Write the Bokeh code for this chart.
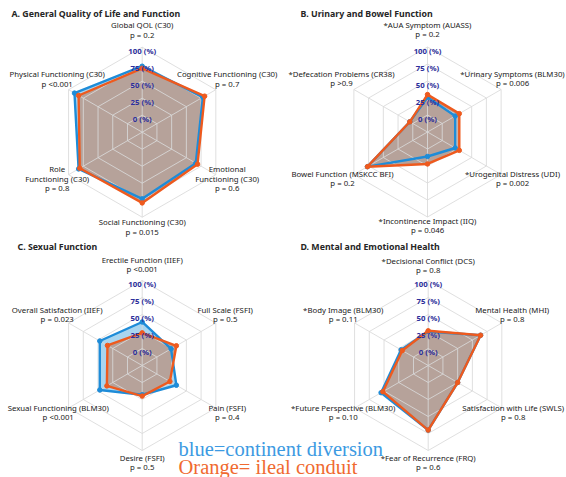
import numpy as np
from bokeh.plotting import figure
from bokeh.models import Range1d
from bokeh.core.properties import value
from bokeh.embed import file_html
from bokeh.resources import INLINE

# ---------------- data ----------------
ring_values = [0, 25, 50, 75, 100]
ring_labels = ["0 (%)", "25 (%)", "50 (%)", "75 (%)", "100 (%)"]

A_title = "A. General Quality of Life and Function"
A_axes = ["Global QOL (C30)", "Cognitive Functioning (C30)", "Emotional\nFunctioning (C30)",
          "Social Functioning (C30)", "Role\nFunctioning (C30)", "Physical Functioning (C30)"]
A_p = ["p = 0.2", "p = 0.7", "p = 0.6", "p = 0.015", "p = 0.8", "p <0.001"]
A_blue = [72, 78, 66, 73, 83, 90]
A_orange = [69, 81, 69, 79, 81, 83]

B_title = "B. Urinary and Bowel Function"
B_axes = ["*AUA Symptom (AUASS)", "*Urinary Symptoms (BLM30)", "*Urogenital Distress (UDI)",
          "*Incontinence Impact (IIQ)", "Bowel Function (MSKCC BFI)", "*Defecation Problems (CR38)"]
B_p = ["p = 0.2", "p = 0.006", "p = 0.002", "p = 0.046", "p = 0.2", "p >0.9"]
B_blue = [26, 22, 22, 11, 77, 5]
B_orange = [30, 29, 29, 22, 77, 5]

C_title = "C. Sexual Function"
C_axes = ["Erectile Function (IIEF)", "Full Scale (FSFI)", "Pain (FSFI)", "Desire (FSFI)",
          "Sexual Functioning (BLM30)", "Overall Satisfaction (IIEF)"]
C_p = ["p <0.001", "p = 0.5", "p = 0.4", "p = 0.5", "p <0.001", "p = 0.023"]
C_blue = [39, 24, 33, 18, 47, 47]
C_orange = [23, 33, 22, 20, 35, 34]

D_title = "D. Mental and Emotional Health"
D_axes = ["*Decisional Conflict (DCS)", "Mental Health (MHI)", "Satisfaction with Life (SWLS)",
          "*Fear of Recurrence (FRQ)", "*Future Perspective (BLM30)", "*Body Image (BLM30)"]
D_p = ["p = 0.8", "p = 0.8", "p = 0.8", "p = 0.6", "p = 0.10", "p = 0.11"]
D_blue = [25, 64, 25, 70, 55, 21]
D_orange = [26, 64, 25, 70, 52, 19]

legend_lines = ["blue=continent diversion", "Orange= ileal conduit"]

# ---------------- layout / style ----------------
W, H = 566, 477
AXIS_MIN = -25.0      # value at the centre of each radar
SCALE = 85.0 / 125.0  # px per value unit
BLUE = "#1E8CD8"
ORANGE = "#EE5A1E"
BLUE_FILL = "#A9D5EF"
ORANGE_FILL = "#B6A29A"
GRID = "#d9d9d9"
FONT = "Noto Sans"

panels = [
    dict(title=A_title, axes=A_axes, p=A_p, blue=A_blue, orange=A_orange,
         c=(141.7, 131.7), tpos=(11, 13),
         lab=[(0, -107), (85, -58), (85, 37), (0, 90), (-85, 37), (-85, -58)]),
    dict(title=B_title, axes=B_axes, p=B_p, blue=B_blue, orange=B_orange,
         c=(427.0, 131.5), tpos=(300, 13),
         lab=[(0, -107), (85, -58), (85, 42), (0, 89), (-85, 42), (-86, -58)]),
    dict(title=C_title, axes=C_axes, p=C_p, blue=C_blue, orange=C_orange,
         c=(141.7, 365.0), tpos=(17, 246),
         lab=[(0, -106), (83, -56), (85, 42), (0, 92), (-84, 42), (-85, -56)]),
    dict(title=D_title, axes=D_axes, p=D_p, blue=D_blue, orange=D_orange,
         c=(427.7, 365.0), tpos=(300, 246),
         lab=[(0, -105), (84, -56), (85, 42), (0, 92), (-85, 42), (-85, -56)]),
]

p = figure(width=W, height=H, x_range=Range1d(0, W), y_range=Range1d(H, 0),
           output_backend="svg", toolbar_location=None,
           x_axis_location=None, y_axis_location=None, min_border=0)
p.grid.visible = False
p.outline_line_color = None
p.background_fill_color = "white"

n = 6
ang = np.deg2rad(90 - 60 * np.arange(n))


def pts(vals, c):
    r = (np.asarray(vals, dtype=float) - AXIS_MIN) * SCALE
    return list(c[0] + r * np.cos(ang)), list(c[1] - r * np.sin(ang))


for pn in panels:
    c = pn["c"]
    bx, by = pts(pn["blue"], c)
    ox, oy = pts(pn["orange"], c)
    # fills
    p.patch(bx, by, fill_color=BLUE_FILL, line_color=None)
    p.patch(ox, oy, fill_color=ORANGE_FILL, line_color=None)
    # grid rings + spokes on top of fills
    for v in ring_values:
        gx, gy = pts([v] * n, c)
        p.patch(gx, gy, fill_color=None, line_color=GRID, line_width=1, line_alpha=0.85)
    ex, ey = pts([100] * n, c)
    p.segment([c[0]] * n, [c[1]] * n, ex, ey, line_color=GRID, line_width=1, line_alpha=0.85)
    # series outlines
    p.patch(bx, by, fill_color=None, line_color=BLUE, line_width=2.4)
    p.scatter(bx, by, size=4.5, fill_color=BLUE, line_color=BLUE)
    p.patch(ox, oy, fill_color=None, line_color=ORANGE, line_width=2.4)
    p.scatter(ox, oy, size=4.5, fill_color=ORANGE, line_color=ORANGE)
    # ring labels
    ly = [c[1] - (v - AXIS_MIN) * SCALE + 3.5 for v in ring_values]
    p.text([c[0]] * len(ring_values), ly, text=ring_labels, text_font=value(FONT),
           text_font_size="7.8px", text_font_style="bold", text_color="#2D2F9C",
           text_align="center", text_baseline="middle")
    # axis labels
    tx, ty, tt = [], [], []
    for i in range(n):
        lines = pn["axes"][i].split("\n") + [pn["p"][i]]
        dx, dy = pn["lab"][i]
        for k, s in enumerate(lines):
            tx.append(c[0] + dx)
            ty.append(c[1] + dy + 9.3 * k)
            tt.append(s)
    p.text(tx, ty, text=tt, text_font=value(FONT), text_font_size="7.8px",
           text_color="#1a1a1a", text_align="center", text_baseline="middle")
    # title
    p.text([pn["tpos"][0]], [pn["tpos"][1]], text=[pn["title"]], text_font=value(FONT),
           text_font_size="8.8px", text_font_style="bold", text_color="#262626",
           text_align="left", text_baseline="middle")

# legend text
p.text([178], [448], text=[legend_lines[0]], text_font=value("Liberation Serif"),
       text_font_size="20.5px", text_color="#3C9AE2", text_align="left", text_baseline="alphabetic")
p.text([178], [466], text=[legend_lines[1]], text_font=value("Liberation Serif"),
       text_font_size="20.5px", text_color="#F06A30", text_align="left", text_baseline="alphabetic")

open("out.html", "w").write(file_html(p, INLINE))
